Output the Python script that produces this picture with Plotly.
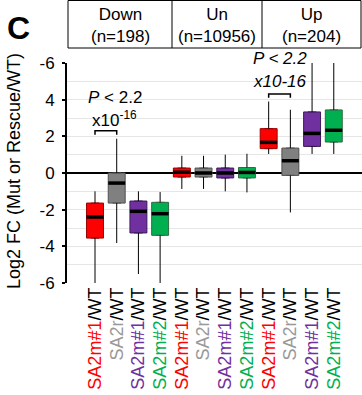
import plotly.graph_objects as go

# ---- data -------------------------------------------------------------
groups = ["Down", "Un", "Up"]
group_n = [198, 10956, 204]
samples = ["SA2m#1", "SA2r", "SA2m#1", "SA2m#2"]
sample_colors = ["#ff0000", "#999999", "#7030a0", "#00b050"]
fill_colors = ["#ff0000", "#808080", "#7030a0", "#00b050"]
edge_colors = ["#9a0000", "#505050", "#3c1a5c", "#2f6b45"]

# box statistics per group, in sample order (Log2 FC)
lower_fence = [-6.0, -3.82, -5.51, -6.0,
               -0.87, -0.87, -1.0, -1.06,
               1.04, -2.15, 1.04, 1.04]
q1 = [-3.55, -1.64, -3.27, -3.4,
      -0.22, -0.22, -0.27, -0.27,
      1.33, -0.13, 1.45, 1.69]
median = [-2.4, -0.55, -2.09, -2.22,
          0.04, 0.0, 0.0, 0.03,
          1.67, 0.67, 2.16, 2.33]
q3 = [-1.64, 0.0, -1.53, -1.6,
      0.27, 0.27, 0.27, 0.3,
      2.42, 1.36, 3.33, 3.44]
upper_fence = [-1.0, 1.87, -1.0, -1.04,
               0.94, 0.94, 1.0, 1.05,
               3.9, 3.45, 6.0, 6.0]

y_tickvals = [-6, -4, -2, 0, 2, 4, 6]
y_ticktext = ["-6", "-4", "-2", "0", "2", "4", "-6"]

# ---- layout geometry (pixels) -----------------------------------------
W, H = 362, 395
L, R, T, B = 67, 0, 63, 112
PW, PH = W - L - R, H - T - B
BOX_W = 0.78
FONT = "Liberation Sans, Arial, sans-serif"


def px_x(px):
    return (px - L) / PW


def px_y(py):
    return (H - B - py) / PH


fig = go.Figure()

n_samples = len(samples)
positions = list(range(len(groups) * n_samples))

# whiskers (black)
wx, wy = [], []
for i in positions:
    wx += [i, i, None, i, i, None]
    wy += [lower_fence[i], q1[i], None, q3[i], upper_fence[i], None]
fig.add_trace(go.Scatter(x=wx, y=wy, mode="lines",
                         line=dict(color="black", width=1),
                         hoverinfo="skip", showlegend=False))

# boxes
for i in positions:
    s = i % n_samples
    fig.add_trace(go.Box(
        x=[i], q1=[q1[i]], median=[median[i]], q3=[q3[i]],
        lowerfence=[q1[i]], upperfence=[q3[i]],
        width=BOX_W, fillcolor=fill_colors[s],
        line=dict(color=edge_colors[s], width=1),
        boxpoints=False, showlegend=False,
    ))

# thick median bars
mx, my = [], []
for i in positions:
    mx += [i - BOX_W / 2, i + BOX_W / 2, None]
    my += [median[i], median[i], None]
fig.add_trace(go.Scatter(x=mx, y=my, mode="lines",
                         line=dict(color="black", width=3.5),
                         hoverinfo="skip", showlegend=False))

# x tick labels: coloured sample name + "/WT"
ticktext = []
for i in positions:
    s = i % n_samples
    ticktext.append(f'<span style="color:{sample_colors[s]}">{samples[s]}</span>/WT')

shapes = []
annotations = []

# facet header boxes
hdr_left, hdr_right, hdr_top, hdr_bot = 68, 361, 0.5, 48
dividers = [hdr_left, 172, 262, hdr_right]
shapes.append(dict(type="rect", xref="paper", yref="paper",
                   x0=px_x(hdr_left), x1=px_x(hdr_right),
                   y0=px_y(hdr_bot), y1=px_y(hdr_top),
                   line=dict(color="black", width=1)))
for d in dividers[1:-1]:
    shapes.append(dict(type="line", xref="paper", yref="paper",
                       x0=px_x(d), x1=px_x(d),
                       y0=px_y(hdr_bot), y1=px_y(hdr_top),
                       line=dict(color="black", width=1)))
for g, (name, n) in enumerate(zip(groups, group_n)):
    cx = (dividers[g] + dividers[g + 1]) / 2
    annotations.append(dict(xref="paper", yref="paper",
                            x=px_x(cx), y=px_y(25.5),
                            text=f"{name}<br>(n={n})", showarrow=False,
                            font=dict(size=17, color="black", family=FONT),
                            xanchor="center", yanchor="middle"))

# significance brackets between SA2m#1 and SA2r
def bracket(a, b, y, drop):
    return dict(type="path", xref="x", yref="y",
                path=f"M {a},{y - drop} L {a},{y} L {b},{y} L {b},{y - drop}",
                line=dict(color="black", width=1.5))


shapes.append(bracket(0, 1, 2.3, 0.22))
shapes.append(bracket(8, 9, 4.31, 0.2))

annotations += [
    dict(x=0.9, y=4.1, xref="x", yref="y", showarrow=False,
         text="<i>P</i> < 2.2", font=dict(size=17, family=FONT, color="black")),
    dict(x=0.92, y=2.95, xref="x", yref="y", showarrow=False,
         text="x10<sup>-16</sup>", font=dict(size=17, family=FONT, color="black")),
    dict(x=8.52, y=px_y(58.5), xref="x", yref="paper", showarrow=False,
         text="<i>P < 2.2</i>", font=dict(size=17, family=FONT, color="black"),
         yanchor="middle"),
    dict(x=8.5, y=5.0, xref="x", yref="y", showarrow=False,
         text="<i>x10-16</i>", font=dict(size=17, family=FONT, color="black")),
    # panel letter
    dict(xref="paper", yref="paper", x=px_x(18), y=px_y(28), showarrow=False,
         text="<b>C</b>", font=dict(size=32, family=FONT, color="black"),
         xanchor="center", yanchor="middle"),
    # y-axis title
    dict(xref="paper", yref="paper", x=px_x(14), y=px_y(171), showarrow=False,
         text="Log2 FC (Mut or Rescue/WT)", textangle=-90,
         font=dict(size=18, family=FONT, color="black"),
         xanchor="center", yanchor="middle"),
]

fig.update_layout(
    width=W, height=H,
    margin=dict(l=L, r=R, t=T, b=B, pad=0),
    paper_bgcolor="white", plot_bgcolor="white",
    font=dict(family=FONT, color="black"),
    shapes=shapes, annotations=annotations,
    boxmode="overlay",
    xaxis=dict(range=[-1.29, 12.3], tickmode="array", tickvals=positions,
               ticktext=ticktext, tickangle=-90, showgrid=False,
               zeroline=False, showline=False, ticks="",
               tickfont=dict(size=18, family=FONT, color="black")),
    yaxis=dict(range=[-6, 6], tickmode="array", tickvals=y_tickvals,
               ticktext=y_ticktext, showgrid=True, gridcolor="#e6e6e6",
               gridwidth=1, zeroline=True, zerolinecolor="black",
               zerolinewidth=1.5, showline=True, linecolor="black",
               linewidth=2, ticks="outside", ticklen=3, tickwidth=1.5,
               tickcolor="black", ticklabelstandoff=4,
               tickfont=dict(size=17, family=FONT, color="black"),
               minor=dict(dtick=1, showgrid=True, gridcolor="#e6e6e6",
                          gridwidth=1, ticks="")),
)

fig.write_html("out.html")
